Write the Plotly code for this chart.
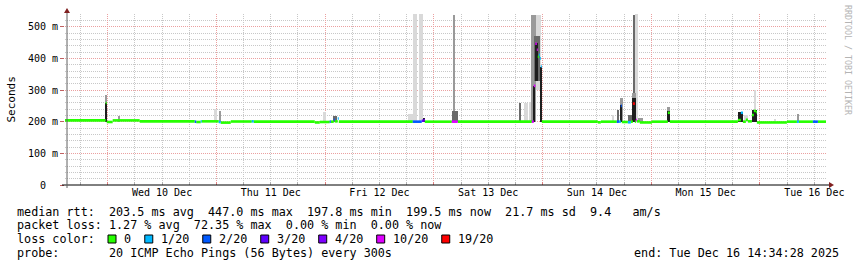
import plotly.graph_objects as go
import pandas as pd

# ---------------- data ----------------
START = "2025-12-09 14:34:28"
END = "2025-12-16 14:34:28"

Y_TICK_VALS = [0, 100, 200, 300, 400, 500]
Y_TICK_TEXT = ["0\u00a0\u00a0", "100 m", "200 m", "300 m", "400 m", "500 m"]

LOSS_LABELS = ["0", "1/20", "2/20", "3/20", "4/20", "10/20", "19/20"]
LOSS_COLORS = ["#26ff00", "#00b8ff", "#0059ff", "#5e00ff", "#7e00ff", "#dd00ff", "#ff0000"]

# median rtt (ms) as horizontal runs: start, end, value, loss-class index
median_runs = [
    ("2025-12-09 14:34:28", "2025-12-09 23:33", 204, 0),
    ("2025-12-09 23:33", "2025-12-09 23:47", 259, 0),
    ("2025-12-09 23:47", "2025-12-10 01:06", 199, 0),
    ("2025-12-10 01:06", "2025-12-10 07:04", 204, 0),
    ("2025-12-10 07:04", "2025-12-10 19:13", 201, 0),
    ("2025-12-10 19:13", "2025-12-10 19:33", 200, 2),
    ("2025-12-10 19:33", "2025-12-10 20:32", 199, 0),
    ("2025-12-10 20:32", "2025-12-10 20:45", 201, 1),
    ("2025-12-10 20:45", "2025-12-11 00:31", 201, 0),
    ("2025-12-11 00:31", "2025-12-11 00:57", 199, 1),
    ("2025-12-11 00:57", "2025-12-11 03:10", 197, 0),
    ("2025-12-11 03:10", "2025-12-11 07:48", 200.5, 0),
    ("2025-12-11 07:48", "2025-12-11 08:15", 201, 1),
    ("2025-12-11 08:15", "2025-12-11 21:43", 200, 0),
    ("2025-12-11 21:43", "2025-12-11 22:49", 197.5, 0),
    ("2025-12-11 22:49", "2025-12-12 01:01", 199, 0),
    ("2025-12-12 01:01", "2025-12-12 01:15", 200, 2),
    ("2025-12-12 01:15", "2025-12-12 01:54", 200, 0),
    ("2025-12-12 01:54", "2025-12-12 02:08", 206, 2),
    ("2025-12-12 02:08", "2025-12-12 02:47", 201, 0),
    ("2025-12-12 02:47", "2025-12-12 03:01", 210, 1),
    ("2025-12-12 03:01", "2025-12-12 19:21", 200, 0),
    ("2025-12-12 19:21", "2025-12-12 21:20", 200, 2),
    ("2025-12-12 21:20", "2025-12-12 21:47", 203, 3),
    ("2025-12-12 21:47", "2025-12-12 22:00", 205, 4),
    ("2025-12-12 22:00", "2025-12-13 03:58", 200, 0),
    ("2025-12-13 03:58", "2025-12-13 05:17", 200, 5),
    ("2025-12-13 05:17", "2025-12-13 21:38", 200, 0),
    ("2025-12-13 21:38", "2025-12-13 22:04", 200, 5),
    ("2025-12-13 22:04", "2025-12-13 22:24", 313, 5),
    ("2025-12-13 22:24", "2025-12-13 22:44", 446, 5),
    ("2025-12-13 22:44", "2025-12-13 22:57", 427, 5),
    ("2025-12-13 22:57", "2025-12-13 23:11", 405, 0),
    ("2025-12-13 23:11", "2025-12-13 23:24", 411, 1),
    ("2025-12-13 23:24", "2025-12-13 23:37", 400, 1),
    ("2025-12-13 23:37", "2025-12-13 23:50", 374, 1),
    ("2025-12-13 23:50", "2025-12-14 12:12", 200, 0),
    ("2025-12-14 12:12", "2025-12-14 12:52", 198, 0),
    ("2025-12-14 12:52", "2025-12-14 16:24", 200, 0),
    ("2025-12-14 16:24", "2025-12-14 16:51", 200, 2),
    ("2025-12-14 16:51", "2025-12-14 17:17", 200, 1),
    ("2025-12-14 17:17", "2025-12-14 17:30", 250, 2),
    ("2025-12-14 17:30", "2025-12-14 18:50", 199, 0),
    ("2025-12-14 18:50", "2025-12-14 19:30", 198, 1),
    ("2025-12-14 19:30", "2025-12-14 19:56", 200, 0),
    ("2025-12-14 19:56", "2025-12-14 20:23", 257, 6),
    ("2025-12-14 20:23", "2025-12-14 20:36", 200, 0),
    ("2025-12-14 20:36", "2025-12-14 20:49", 205, 5),
    ("2025-12-14 20:49", "2025-12-14 21:29", 201, 0),
    ("2025-12-14 21:29", "2025-12-15 00:08", 197.5, 0),
    ("2025-12-15 00:08", "2025-12-15 03:40", 200, 0),
    ("2025-12-15 03:40", "2025-12-15 04:06", 228, 0),
    ("2025-12-15 04:06", "2025-12-15 19:07", 200, 0),
    ("2025-12-15 19:07", "2025-12-15 19:47", 205, 0),
    ("2025-12-15 19:47", "2025-12-15 20:14", 228, 1),
    ("2025-12-15 20:14", "2025-12-15 20:53", 200, 0),
    ("2025-12-15 20:53", "2025-12-15 21:20", 206, 0),
    ("2025-12-15 21:20", "2025-12-15 22:13", 201, 0),
    ("2025-12-15 22:13", "2025-12-15 22:39", 221, 0),
    ("2025-12-15 22:39", "2025-12-15 23:06", 234, 0),
    ("2025-12-15 23:06", "2025-12-15 23:19", 230, 0),
    ("2025-12-15 23:19", "2025-12-16 05:57", 197.5, 0),
    ("2025-12-16 05:57", "2025-12-16 08:09", 200, 0),
    ("2025-12-16 08:09", "2025-12-16 08:35", 200, 1),
    ("2025-12-16 08:35", "2025-12-16 11:41", 200, 0),
    ("2025-12-16 11:41", "2025-12-16 12:47", 200, 2),
    ("2025-12-16 12:47", "2025-12-16 14:34:28", 200, 0),
]

# smoke bands (ping spread, ms): start, end, low, high, shade
smoke_bands = [
    ("2025-12-09 23:20", "2025-12-09 23:47", 200, 259, "black"),
    ("2025-12-09 23:33", "2025-12-09 23:47", 259, 285, "mid"),
    ("2025-12-10 02:19", "2025-12-10 02:32", 200, 218, "mid"),
    ("2025-12-10 23:31", "2025-12-11 00:11", 200, 240, "light"),
    ("2025-12-11 00:44", "2025-12-11 00:57", 200, 234, "mid"),
    ("2025-12-11 23:42", "2025-12-12 00:08", 200, 230, "light"),
    ("2025-12-12 01:41", "2025-12-12 02:34", 200, 218, "dark"),
    ("2025-12-12 18:15", "2025-12-12 19:21", 200, 224, "light"),
    ("2025-12-12 19:28", "2025-12-12 20:14", 200, 541, "light"),
    ("2025-12-12 20:41", "2025-12-12 21:40", 200, 541, "light"),
    ("2025-12-12 21:47", "2025-12-12 22:00", 200, 212, "black"),
    ("2025-12-13 03:58", "2025-12-13 05:17", 200, 234, "dark"),
    ("2025-12-13 04:18", "2025-12-13 04:31", 234, 538, "mid"),
    ("2025-12-13 18:52", "2025-12-13 19:06", 200, 259, "dark"),
    ("2025-12-13 19:59", "2025-12-13 20:45", 200, 259, "light"),
    ("2025-12-13 21:11", "2025-12-13 21:25", 200, 262, "light"),
    ("2025-12-13 22:31", "2025-12-13 23:44", 300, 538, "light"),
    ("2025-12-13 21:25", "2025-12-13 22:31", 200, 538, "mid"),
    ("2025-12-13 22:04", "2025-12-13 23:24", 330, 470, "dark"),
    ("2025-12-13 21:51", "2025-12-13 22:18", 200, 313, "black"),
    ("2025-12-13 22:18", "2025-12-13 22:57", 330, 450, "black"),
    ("2025-12-13 23:37", "2025-12-13 23:50", 200, 374, "black"),
    ("2025-12-14 15:18", "2025-12-14 15:45", 200, 221, "light"),
    ("2025-12-14 16:31", "2025-12-14 16:44", 200, 237, "dark"),
    ("2025-12-14 17:04", "2025-12-14 17:44", 200, 275, "mid"),
    ("2025-12-14 17:11", "2025-12-14 17:37", 200, 253, "black"),
    ("2025-12-14 18:50", "2025-12-14 19:43", 200, 221, "dark"),
    ("2025-12-14 19:43", "2025-12-14 20:36", 275, 291, "mid"),
    ("2025-12-14 19:43", "2025-12-14 20:36", 200, 275, "black"),
    ("2025-12-14 20:03", "2025-12-14 20:16", 291, 538, "dark"),
    ("2025-12-14 20:36", "2025-12-14 21:02", 200, 541, "light"),
    ("2025-12-14 21:02", "2025-12-14 22:09", 200, 212, "mid"),
    ("2025-12-15 03:40", "2025-12-15 04:06", 200, 235, "black"),
    ("2025-12-15 03:40", "2025-12-15 04:06", 235, 247, "mid"),
    ("2025-12-15 19:07", "2025-12-15 20:14", 200, 231, "black"),
    ("2025-12-15 20:27", "2025-12-15 21:20", 200, 221, "light"),
    ("2025-12-15 22:13", "2025-12-15 23:19", 200, 237, "black"),
    ("2025-12-15 22:39", "2025-12-15 23:06", 237, 300, "light"),
    ("2025-12-16 03:11", "2025-12-16 03:24", 200, 210, "light"),
    ("2025-12-16 08:15", "2025-12-16 08:29", 200, 224, "mid"),
]
SHADE_COLORS = {"light": "#d9d9d9", "mid": "#9a9a9a", "dark": "#6a6a6a", "black": "#1e1e1e"}

LEGEND_LINES = [
    "median rtt:  203.5 ms avg  447.0 ms max  197.8 ms min  199.5 ms now  21.7 ms sd  9.4   am/s",
    "packet loss: 1.27 % avg  72.35 % max  0.00 % min  0.00 % now",
    "loss color:",
    "probe:       20 ICMP Echo Pings (56 Bytes) every 300s",
]
END_TEXT = "end: Tue Dec 16 14:34:28 2025"
Y_TITLE = "Seconds"
WATERMARK = "RRDTOOL / TOBI OETIKER"

# ---------------- layout geometry (pixels) ----------------
W, H = 857, 267
L, R, T, B = 65, 826, 14, 185
MONO = "DejaVu Sans Mono"


def pxx(p):
    return (p - L) / (R - L)


def pxy(p):
    return (B - p) / (B - T)


def nb(s):
    return s.replace(" ", "\u00a0")


fig = go.Figure()

# smoke
for shade in ["light", "mid", "dark", "black"]:
    xs, ws, bs, hs = [], [], [], []
    for s, e, lo, hi, sh in smoke_bands:
        if sh != shade:
            continue
        ts, te = pd.Timestamp(s), pd.Timestamp(e)
        xs.append(ts + (te - ts) / 2)
        ws.append((te - ts).total_seconds() * 1000)
        bs.append(lo)
        hs.append(hi - lo)
    fig.add_trace(go.Bar(x=xs, y=hs, base=bs, width=ws,
                         marker=dict(color=SHADE_COLORS[shade], line=dict(width=0)),
                         hoverinfo="skip", showlegend=False))

# median by loss colour
for k, col in enumerate(LOSS_COLORS):
    xs, ys = [], []
    for s, e, v, c in median_runs:
        if c == k:
            xs += [s, e, None]
            ys += [v, v, None]
    if xs:
        fig.add_trace(go.Scatter(x=xs, y=ys, mode="lines",
                                 line=dict(color=col, width=2.6),
                                 hoverinfo="skip", showlegend=False))

shapes = []
ann = []

# axis lines and arrows
shapes.append(dict(type="line", xref="paper", yref="paper",
                   x0=pxx(62), x1=pxx(830), y0=pxy(185), y1=pxy(185),
                   line=dict(color="#000000", width=1)))
shapes.append(dict(type="line", xref="paper", yref="paper",
                   x0=pxx(67), x1=pxx(67), y0=pxy(188), y1=pxy(12),
                   line=dict(color="#606060", width=1)))
shapes.append(dict(type="path", xref="paper", yref="paper",
                   path=f"M {pxx(829)},{pxy(182)} L {pxx(834)},{pxy(185)} L {pxx(829)},{pxy(188)} Z",
                   fillcolor="#802020", line=dict(width=0)))
shapes.append(dict(type="path", xref="paper", yref="paper",
                   path=f"M {pxx(64)},{pxy(13)} L {pxx(67)},{pxy(8)} L {pxx(70)},{pxy(13)} Z",
                   fillcolor="#802020", line=dict(width=0)))

# legend text lines
line_y = [211.5, 225, 238.5, 252.5]
for txt, yy in zip(LEGEND_LINES, line_y):
    ann.append(dict(text=nb(txt), xref="paper", yref="paper", x=pxx(15), y=pxy(yy),
                    xanchor="left", yanchor="middle", showarrow=False,
                    font=dict(family=MONO, size=11.75, color="#000000")))

# loss colour swatches
sx = 108.0
for lab, col in zip(LOSS_LABELS, LOSS_COLORS):
    shapes.append(dict(type="rect", xref="paper", yref="paper",
                       x0=pxx(sx), x1=pxx(sx + 8), y0=pxy(243), y1=pxy(235),
                       fillcolor=col, line=dict(color="#000000", width=1)))
    ann.append(dict(text=lab, xref="paper", yref="paper", x=pxx(sx + 14), y=pxy(238.5),
                    xanchor="left", yanchor="middle", showarrow=False,
                    font=dict(family=MONO, size=11.75, color="#000000")))
    sx += 29.7 + 7.07 * len(lab)

ann.append(dict(text=nb(END_TEXT), xref="paper", yref="paper", x=pxx(841), y=pxy(252.5),
                xanchor="right", yanchor="middle", showarrow=False,
                font=dict(family=MONO, size=11.75, color="#000000")))
ann.append(dict(text=Y_TITLE, xref="paper", yref="paper", x=pxx(11), y=pxy(99.5),
                xanchor="center", yanchor="middle", showarrow=False, textangle=-90,
                font=dict(family=MONO, size=11, color="#000000")))
ann.append(dict(text=nb(WATERMARK), xref="paper", yref="paper", x=pxx(848), y=pxy(60),
                xanchor="center", yanchor="middle", showarrow=False, textangle=90,
                font=dict(family=MONO, size=8.3, color="#b4b4b4")))

fig.update_layout(
    width=W, height=H, autosize=False,
    margin=dict(l=L, r=W - R, t=T, b=H - B, pad=0),
    paper_bgcolor="#ffffff", plot_bgcolor="#ffffff",
    barmode="overlay", bargap=0, showlegend=False,
    shapes=shapes, annotations=ann,
    xaxis=dict(
        type="date", range=[START, END],
        tick0="2025-12-10", dtick=86400000, tickformat="%a %d %b",
        ticklabelmode="period",
        showgrid=True, gridcolor="#eba0a0", griddash="1px,1px", gridwidth=1,
        ticks="inside", ticklen=3, tickcolor="#e08080",
        minor=dict(dtick=6 * 3600000, tick0="2025-12-10", showgrid=True,
                   gridcolor="#c8c8c8", griddash="1px,1px", ticks="inside",
                   ticklen=3, tickcolor="#b0b0b0"),
        tickfont=dict(family=MONO, size=10, color="#000000"),
        showline=False, zeroline=False, fixedrange=True,
    ),
    yaxis=dict(
        range=[0, 540], tickmode="array", tickvals=Y_TICK_VALS, ticktext=Y_TICK_TEXT,
        showgrid=True, gridcolor="#eba0a0", griddash="1px,1px", gridwidth=1,
        ticks="outside", ticklen=4, tickcolor="#c06060",
        minor=dict(tickmode="linear", tick0=0, dtick=20, showgrid=True,
                   gridcolor="#c8c8c8", griddash="1px,1px"),
        tickfont=dict(family=MONO, size=10, color="#000000"),
        showline=False, zeroline=False, fixedrange=True,
    ),
)

fig.write_html("out.html")
